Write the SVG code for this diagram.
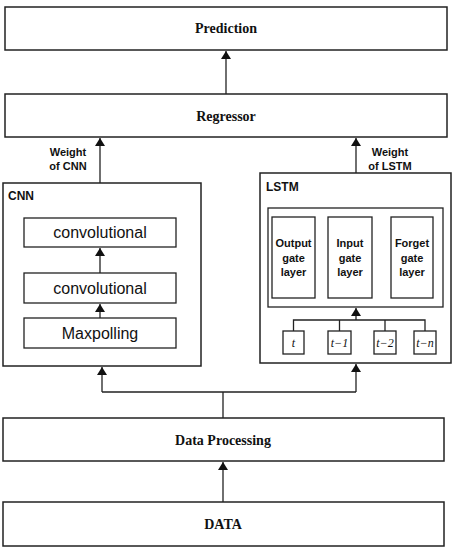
<svg xmlns="http://www.w3.org/2000/svg" width="454" height="550" viewBox="0 0 454 550">
<style>
.box{fill:#fff;stroke:#222;stroke-width:1.5}
.sbox{fill:#fff;stroke:#222;stroke-width:1.3}
.ln{fill:none;stroke:#222;stroke-width:1.3}
.ser{font-family:"Liberation Serif",serif;font-weight:bold;font-size:14px;fill:#111;text-anchor:middle}
.sans{font-family:"Liberation Sans",sans-serif;fill:#111;text-anchor:middle}
.lbl{font-family:"Liberation Sans",sans-serif;fill:#111;font-size:12px;font-weight:bold;text-anchor:start}
.it{font-family:"Liberation Serif",serif;font-style:italic;font-size:12px;fill:#111;text-anchor:middle}
</style>
<defs>
<marker id="ah" viewBox="0 0 8 10" refX="8" refY="5" markerWidth="8" markerHeight="10" markerUnits="userSpaceOnUse" orient="auto">
<path d="M0,0 L8,5 L0,10 z" fill="#111"/>
</marker>
</defs>
<rect width="454" height="550" fill="#fff"/>
<g id="prediction"><rect class="box" x="5" y="7" width="442" height="43"/><text class="ser" x="226" y="33">Prediction</text></g>
<g id="regressor"><rect class="box" x="5" y="94" width="442" height="43"/><text class="ser" x="226" y="121">Regressor</text></g>
<g id="cnn">
<rect class="box" x="3" y="183" width="198" height="183"/>
<text class="lbl" x="8" y="200">CNN</text>
<g id="conv1"><rect class="sbox" x="24" y="218" width="152" height="29"/><text class="sans" x="100" y="238" font-size="16">convolutional</text></g>
<g id="conv2"><rect class="sbox" x="24" y="273" width="152" height="30"/><text class="sans" x="100" y="294" font-size="16">convolutional</text></g>
<g id="maxpool"><rect class="sbox" x="24" y="318" width="152" height="30"/><text class="sans" x="100" y="339" font-size="16">Maxpolling</text></g>
</g>
<g id="lstm">
<rect class="box" x="260" y="173" width="191" height="190"/>
<text class="lbl" x="266" y="191">LSTM</text>
<rect class="sbox" x="268" y="208" width="175" height="99"/>
<g id="output-gate"><rect class="sbox" x="272" y="217" width="43" height="81"/><text class="sans" font-size="11" font-weight="bold"><tspan x="293.5" y="247">Output</tspan><tspan x="293.5" y="262">gate</tspan><tspan x="293.5" y="276">layer</tspan></text></g>
<g id="input-gate"><rect class="sbox" x="328" y="217" width="44" height="81"/><text class="sans" font-size="11" font-weight="bold"><tspan x="350" y="247">Input</tspan><tspan x="350" y="262">gate</tspan><tspan x="350" y="276">layer</tspan></text></g>
<g id="forget-gate"><rect class="sbox" x="391" y="217" width="42" height="81"/><text class="sans" font-size="11" font-weight="bold"><tspan x="412" y="247">Forget</tspan><tspan x="412" y="262">gate</tspan><tspan x="412" y="276">layer</tspan></text></g>
<g id="t0"><rect class="sbox" x="283" y="331" width="21" height="23"/><text class="it" x="293.5" y="347">t</text></g>
<g id="t1"><rect class="sbox" x="328" y="331" width="23" height="23"/><text class="it" x="339.5" y="347">t−1</text></g>
<g id="t2"><rect class="sbox" x="374" y="331" width="22" height="23"/><text class="it" x="385" y="347">t−2</text></g>
<g id="tn"><rect class="sbox" x="414" y="331" width="22" height="23"/><text class="it" x="425" y="347">t−n</text></g>
</g>
<g id="data-processing"><rect class="box" x="3" y="418" width="441" height="43"/><text class="ser" x="223" y="445">Data Processing</text></g>
<g id="data"><rect class="box" x="3" y="502" width="441" height="44"/><text class="ser" x="223" y="529">DATA</text></g>
<g id="connectors">
<line class="ln" x1="226" y1="94" x2="226" y2="51" marker-end="url(#ah)"/>
<line class="ln" x1="100" y1="183" x2="100" y2="138" marker-end="url(#ah)"/>
<line class="ln" x1="356" y1="173" x2="356" y2="138" marker-end="url(#ah)"/>
<line class="ln" x1="100" y1="273" x2="100" y2="248" marker-end="url(#ah)"/>
<line class="ln" x1="100" y1="318" x2="100" y2="304" marker-end="url(#ah)"/>
<path class="ln" d="M293.5,331 V320 H425 V331 M339.5,320 V331 M385,320 V331"/>
<line class="ln" x1="356" y1="320" x2="356" y2="308" marker-end="url(#ah)"/>
<path class="ln" d="M223,418 V392 M102,392 H356"/>
<line class="ln" x1="102" y1="392" x2="102" y2="367" marker-end="url(#ah)"/>
<line class="ln" x1="356" y1="392" x2="356" y2="364" marker-end="url(#ah)"/>
<line class="ln" x1="223" y1="502" x2="223" y2="462" marker-end="url(#ah)"/>
<text class="sans" font-size="11" font-weight="bold"><tspan x="68" y="156">Weight</tspan><tspan x="68" y="170">of CNN</tspan></text>
<text class="sans" font-size="11" font-weight="bold"><tspan x="390" y="156">Weight</tspan><tspan x="390" y="170">of LSTM</tspan></text>
</g>
</svg>
